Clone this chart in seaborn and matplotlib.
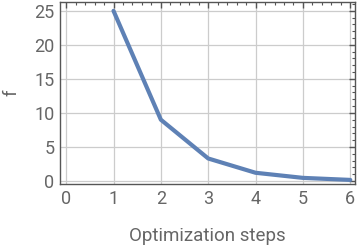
import matplotlib
matplotlib.use("Agg")
import matplotlib.pyplot as plt
import seaborn as sns
import pandas as pd
from matplotlib.ticker import MultipleLocator

steps = [1, 2, 3, 4, 5, 6]
f_values = [25.0, 9.0, 3.3, 1.2, 0.45, 0.15]
x_ticks = [0, 1, 2, 3, 4, 5, 6]
y_ticks = [0, 5, 10, 15, 20, 25]

sns.set_style("white")
plt.rcParams['font.family'] = ['Roboto', 'DejaVu Sans']

df = pd.DataFrame({"step": steps, "f": f_values})

fig = plt.figure(figsize=(3.6, 2.49), dpi=100)
ax = fig.add_axes([60/360, 65/249, 295/360, 182/249])
sns.lineplot(data=df, x="step", y="f", ax=ax, color="#5E81B5", linewidth=3, zorder=3)

ax.set_xlim(-0.13, 6.1)
ax.set_ylim(-0.45, 26.3)
ax.set_xticks(x_ticks)
ax.set_yticks(y_ticks)
ax.xaxis.set_minor_locator(MultipleLocator(0.2))
ax.yaxis.set_minor_locator(MultipleLocator(1))
ax.grid(True, which="major", color="#cccccc", linewidth=0.9)
ax.set_axisbelow(True)
for s in ax.spines.values():
    s.set_color("#555555")
    s.set_linewidth(1)
ax.tick_params(which="both", direction="in", top=True, right=True, colors="#555555",
               labelcolor="#666666", labelsize=13)
ax.tick_params(which="major", length=4, width=1, pad=4)
ax.tick_params(which="minor", length=2, width=0.8)
ax.set_xlabel("Optimization steps", fontsize=13.5, color="#666666", labelpad=14)
ax.set_ylabel("f", fontsize=13.5, color="#666666", labelpad=10)

fig.savefig("out.png", dpi=100)
